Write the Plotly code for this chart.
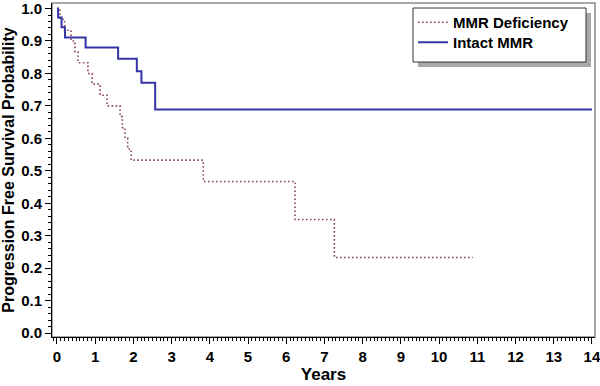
import plotly.graph_objects as go

# Kaplan-Meier step data
deficiency_time = [0, 0.08, 0.20, 0.37, 0.47, 0.55, 0.81, 0.92, 1.13, 1.31,
                   1.65, 1.71, 1.78, 1.85, 1.94, 3.83, 6.23, 7.26, 10.88]
deficiency_surv = [1.0, 0.967, 0.933, 0.900, 0.867, 0.833, 0.800, 0.767, 0.733, 0.700,
                   0.667, 0.633, 0.600, 0.567, 0.533, 0.467, 0.350, 0.233, 0.233]

intact_time = [0, 0.03, 0.12, 0.21, 0.75, 1.60, 2.09, 2.21, 2.57, 14.0]
intact_surv = [1.0, 0.972, 0.942, 0.911, 0.880, 0.845, 0.807, 0.771, 0.689, 0.689]

x_ticks = list(range(0, 15))
y_ticks = [round(i * 0.1, 1) for i in range(11)]

series_names = ["MMR Deficiency", "Intact MMR"]

FONT = "Liberation Sans, Arial, Helvetica, sans-serif"

fig = go.Figure()
fig.add_trace(go.Scatter(
    x=deficiency_time, y=deficiency_surv, mode="lines", line_shape="hv",
    name=series_names[0], legend="legend",
    line=dict(color="#8b4555", width=1.6, dash="1.6px,2.4px"),
))
fig.add_trace(go.Scatter(
    x=intact_time, y=intact_surv, mode="lines", line_shape="hv",
    name=series_names[1], legend="legend2",
    line=dict(color="#3434a4", width=2),
))

W, H = 600, 386
L, R, T, B = 52, 5, 3, 49
pw, ph = W - L - R, H - T - B

def px(xp):
    return (xp - L) / pw

def py(yp):
    return (H - B - yp) / ph

shapes = [
    # plot frame (top/right gray)
    dict(type="rect", xref="paper", yref="paper", x0=0, x1=1, y0=0, y1=1,
         line=dict(color="#8a8a8a", width=1.5), layer="below"),
    # legend shadow
    dict(type="rect", xref="paper", yref="paper",
         x0=px(418), x1=px(591), y0=py(67), y1=py(13),
         fillcolor="#a8a8a8", line=dict(width=0), layer="above"),
    # legend box
    dict(type="rect", xref="paper", yref="paper",
         x0=px(413), x1=px(586), y0=py(62), y1=py(8),
         fillcolor="white", line=dict(color="#333333", width=1), layer="above"),
]

axis_common = dict(
    showgrid=False, zeroline=False, showline=True, linecolor="black", linewidth=1,
    ticks="outside", ticklen=6, tickwidth=1, tickcolor="black",
    ticklabeloverflow="allow", automargin=False,
    tickfont=dict(family=FONT, size=15, color="black", weight="bold"),
)

legend_common = dict(
    xanchor="left", yanchor="top",
    bgcolor="rgba(0,0,0,0)", borderwidth=0,
    font=dict(family=FONT, size=15, color="black", weight="bold"),
    itemwidth=30, tracegroupgap=0,
)

fig.update_layout(
    width=W, height=H,
    margin=dict(l=L, r=R, t=T, b=B, autoexpand=False),
    paper_bgcolor="white", plot_bgcolor="white",
    showlegend=True,
    legend=dict(x=px(413), y=py(6), **legend_common),
    legend2=dict(x=px(413), y=py(26), **legend_common),
    shapes=shapes,
    xaxis=dict(
        range=[-0.13, 14.08], tickvals=x_ticks, ticktext=[str(v) for v in x_ticks],
        minor=dict(dtick=0.1, tick0=0, ticks="outside", ticklen=3, tickcolor="black", tickwidth=1),
        title=dict(text="Years", standoff=4,
                   font=dict(family=FONT, size=17, color="black", weight="bold")),
        **axis_common,
    ),
    yaxis=dict(
        range=[-0.012, 1.017], tickvals=y_ticks, ticktext=[f"{v:.1f}" for v in y_ticks],
        minor=dict(dtick=0.02, tick0=0, ticks="outside", ticklen=3, tickcolor="black", tickwidth=1),
        title=dict(text="Progression Free Survival Probability", standoff=4,
                   font=dict(family=FONT, size=16, color="black", weight="bold")),
        **axis_common,
    ),
)

fig.write_html(
    "out.html",
    config={"displayModeBar": False},
    post_script="document.body.style.margin='0';document.body.style.padding='0';",
)
